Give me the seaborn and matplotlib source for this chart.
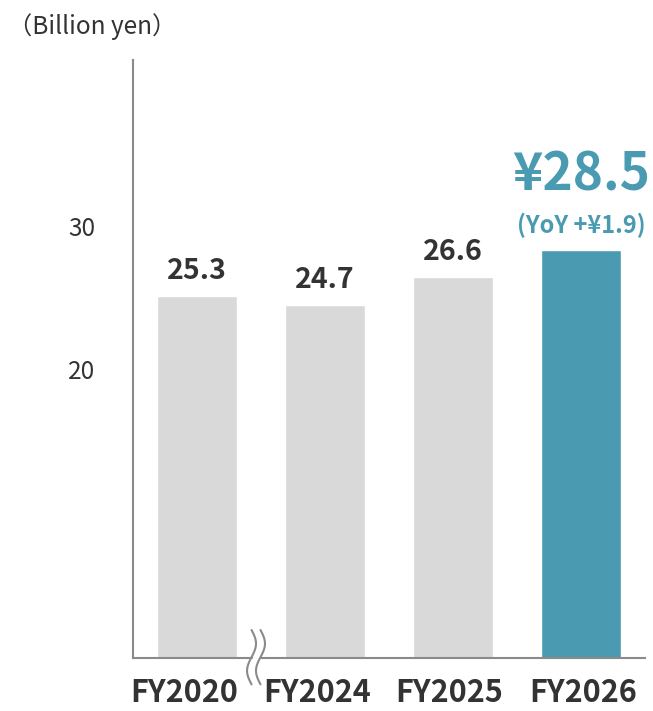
import numpy as np
import pandas as pd
import seaborn as sns
import matplotlib.pyplot as plt
from matplotlib.transforms import ScaledTranslation

# chart values
years = ['FY2020', 'FY2024', 'FY2025', 'FY2026']
values = [25.3, 24.7, 26.6, 28.5]
yoy_label = '(YoY +¥1.9)'
unit_label = '（Billion yen）'
y_ticks = [20, 30]

df = pd.DataFrame({'year': years, 'value': values})

sns.set_style('white')
plt.rcParams['font.family'] = ['Noto Sans CJK JP', 'DejaVu Sans']

grey = '#d9d9d9'
teal = '#4a9bb1'
axis_col = '#8a8a8a'
txt = '#333333'

fig = plt.figure(figsize=(6.53, 7.11), dpi=100)
ax = fig.add_axes([0.2037, 0.0745, 0.784, 0.8411])

pal = {y: (teal if y == years[-1] else grey) for y in years}
sns.barplot(data=df, x='year', y='value', hue='year', palette=pal,
            width=0.625, legend=False, ax=ax, saturation=1)

ax.set_xlim(-0.5, 3.5)
ax.set_ylim(0, 41.8)
ax.set_yticks(y_ticks)
ax.set_xlabel('')
ax.set_ylabel('')
for s in ['top', 'right']:
    ax.spines[s].set_visible(False)
for s in ['left', 'bottom']:
    ax.spines[s].set_color(axis_col)
    ax.spines[s].set_linewidth(1.5)
ax.tick_params(axis='y', length=0, pad=27, labelsize=17.5, labelcolor=txt)
ax.tick_params(axis='x', length=0, pad=14, labelsize=22, labelcolor=txt)

# the category labels in the original sit slightly off the bar centres
shifts = [-13, -8, -4, 2]
for lbl, dx in zip(ax.get_xticklabels(), shifts):
    lbl.set_fontweight('bold')
    lbl.set_transform(lbl.get_transform() + ScaledTranslation(dx / 100, 0, fig.dpi_scale_trans))
for lbl in ax.get_yticklabels():
    lbl.set_transform(lbl.get_transform() + ScaledTranslation(0, 3 / 100, fig.dpi_scale_trans))

# value labels
for i, v in enumerate(values[:-1]):
    ax.annotate(f'{v:.1f}', (i, v), xytext=(0, 8), textcoords='offset points',
                ha='center', va='bottom', fontsize=20.5, fontweight='bold', color=txt)
ax.annotate(yoy_label, (3, values[-1]), xytext=(0, 9), textcoords='offset points',
            ha='center', va='bottom', fontsize=17, fontweight='bold', color=teal)
ax.annotate(f'¥{values[-1]:.1f}', (3, values[-1]), xytext=(0, 35), textcoords='offset points',
            ha='center', va='bottom', fontsize=37, fontweight='bold', color=teal)

fig.text(0.012, 0.962, unit_label, fontsize=17.5, color=txt, va='center', ha='left')

# axis break mark between FY2020 and FY2024
s = np.linspace(0, 1, 60)
yy = 1.96 - s * 3.8
wave = 0.035 * np.sin(2 * np.pi * s)
for xc in [0.426, 0.496]:
    ax.plot(xc + wave, yy, color=axis_col, lw=1.5, clip_on=False, zorder=5)
ax.fill_betweenx(yy, 0.426 + wave + 0.008, 0.496 + wave - 0.008,
                 color='white', clip_on=False, zorder=4, lw=0)

fig.savefig('out.png', dpi=100)
